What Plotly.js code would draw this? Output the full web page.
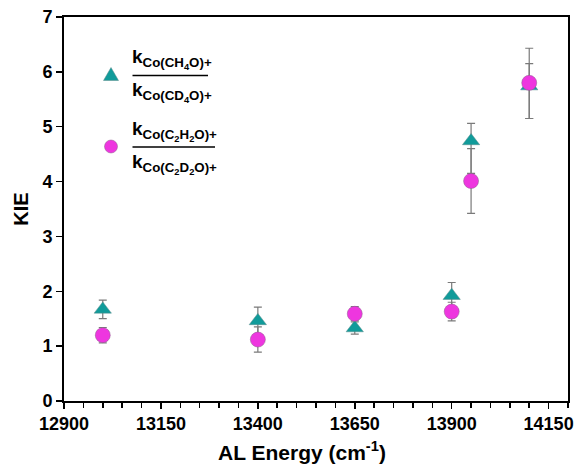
<!DOCTYPE html>
<html>
<head>
<meta charset="utf-8">
<script src="https://cdn.plot.ly/plotly-3.0.1.min.js"></script>
<style>html,body{margin:0;padding:0;background:#fff;}#chart{width:577px;height:466px;}</style>
</head>
<body>
<div id="chart"></div>
<script>
// ---- data ----
const alEnergy = [13000, 13400, 13650, 13900, 13950, 14100];
const kieMethanol = [1.67, 1.46, 1.33, 1.92, 4.74, 5.74];
const kieMethanolErrPlus = [0.17, 0.25, 0.11, 0.24, 0.32, 0.41];
const kieMethanolErrMinus = [0.17, 0.25, 0.11, 0.24, 0.59, 0.59];
const kieKetene = [1.20, 1.12, 1.59, 1.63, 4.01, 5.80];
const kieKeteneErrPlus = [0.14, 0.23, 0.13, 0.17, 0.59, 0.63];
const kieKeteneErrMinus = [0.14, 0.23, 0.13, 0.17, 0.59, 0.65];
const xTickVals = [12900, 13150, 13400, 13650, 13900, 14150];
const xTickText = ['12900', '13150', '13400', '13650', '13900', '14150'];
const yTickVals = [0, 1, 2, 3, 4, 5, 6, 7];
const yTickText = ['0', '1', '2', '3', '4', '5', '6', '7'];
const xTitle = '<b>AL Energy (cm<sup>-1</sup>)</b>';
const yTitle = 'KIE';
const label1Num = '<b>k<sub>Co(CH<sub>4</sub>O)+</sub></b>';
const label1Den = '<b>k<sub>Co(CD<sub>4</sub>O)+</sub></b>';
const label2Num = '<b>k<sub>Co(C<sub>2</sub>H<sub>2</sub>O)+</sub></b>';
const label2Den = '<b>k<sub>Co(C<sub>2</sub>D<sub>2</sub>O)+</sub></b>';

const teal = '#119B9A';
const magenta = '#EE36DF';
const errColor = '#7a7a7a';
const FONT = 'Liberation Sans, Arial, sans-serif';

// plot area in pixels: x 64..568, y 17..401
const L = 64, R = 568, T = 17, B = 401;
const px = v => (v - L) / (R - L);
const py = v => (B - v) / (B - T);

const traces = [
  {
    x: alEnergy, y: kieMethanol, type: 'scatter', mode: 'markers', name: 'CH4O',
    marker: {symbol: 'triangle-up', size: 15, color: teal, line: {color: '#5a8a8a', width: 0.5}},
    error_y: {type: 'data', symmetric: false, array: kieMethanolErrPlus, arrayminus: kieMethanolErrMinus,
              color: errColor, thickness: 1.2, width: 4}
  },
  {
    x: alEnergy, y: kieKetene, type: 'scatter', mode: 'markers', name: 'C2H2O',
    marker: {symbol: 'circle', size: 15, color: magenta, line: {color: '#8a5a8a', width: 0.5}},
    error_y: {type: 'data', symmetric: false, array: kieKeteneErrPlus, arrayminus: kieKeteneErrMinus,
              color: errColor, thickness: 1.2, width: 4}
  }
];

function ann(text, xPix, yPix, yanchor, size, xanchor) {
  return {text: text, xref: 'paper', yref: 'paper', x: px(xPix), y: py(yPix),
          xanchor: xanchor || 'left', yanchor: yanchor, showarrow: false,
          font: {family: FONT, size: size || 19, color: '#000'}};
}

const layout = {
  width: 577, height: 466,
  margin: {l: L, r: 577 - R, t: T, b: 466 - B},
  paper_bgcolor: '#fff', plot_bgcolor: '#fff',
  showlegend: false,
  font: {family: FONT, color: '#000'},
  xaxis: {
    range: [12900, 14200], tickmode: 'array', tickvals: xTickVals, ticktext: xTickText,
    ticks: 'outside', ticklen: 6, tickwidth: 1.5, tickcolor: '#000',
    minor: {dtick: 50, tick0: 12900, ticks: 'outside', ticklen: 5, tickwidth: 1.5, tickcolor: '#000', showgrid: false},
    showline: true, linecolor: '#000', linewidth: 1.8, mirror: true,
    showgrid: false, zeroline: false, ticklabeloverflow: 'allow',
    tickfont: {family: FONT, size: 18, weight: 'bold', color: '#000'}
  },
  yaxis: {
    range: [0, 7], tickmode: 'array', tickvals: yTickVals, ticktext: yTickText,
    ticks: 'outside', ticklen: 6, tickwidth: 1.5, tickcolor: '#000',
    showline: true, linecolor: '#000', linewidth: 1.8, mirror: true,
    showgrid: false, zeroline: false,
    tickfont: {family: FONT, size: 18, weight: 'bold', color: '#000'},
    title: {text: yTitle, standoff: 8,
            font: {family: FONT, size: 20, weight: 'bold', color: '#000'}}
  },
  shapes: [
    // legend symbols
    {type: 'path', xref: 'paper', yref: 'paper', xsizemode: 'pixel', ysizemode: 'pixel',
     xanchor: px(111), yanchor: py(74.5), path: 'M -7.5 -6 L 7.5 -6 L 0 7 Z',
     fillcolor: teal, line: {color: '#5a8a8a', width: 0.5}},
    {type: 'circle', xref: 'paper', yref: 'paper', xsizemode: 'pixel', ysizemode: 'pixel',
     xanchor: px(111), yanchor: py(146.5), x0: -6.5, x1: 6.5, y0: -6.5, y1: 6.5,
     fillcolor: magenta, line: {color: '#8a5a8a', width: 0.5}},
    // fraction bars
    {type: 'line', xref: 'paper', yref: 'paper', x0: px(132.5), x1: px(208), y0: py(75.5), y1: py(75.5),
     line: {color: '#000', width: 1.5}},
    {type: 'line', xref: 'paper', yref: 'paper', x0: px(132.5), x1: px(215), y0: py(147), y1: py(147),
     line: {color: '#000', width: 1.5}}
  ],
  annotations: [
    ann(label1Num, 130, 74, 'bottom'),
    ann(label1Den, 130, 77, 'top'),
    ann(label2Num, 130, 145.5, 'bottom'),
    ann(label2Den, 130, 148.5, 'top'),
    ann(xTitle, 302, 451, 'middle', 21, 'center')
  ]
};

Plotly.newPlot('chart', traces, layout, {displayModeBar: false, staticPlot: true});
</script>
</body>
</html>
